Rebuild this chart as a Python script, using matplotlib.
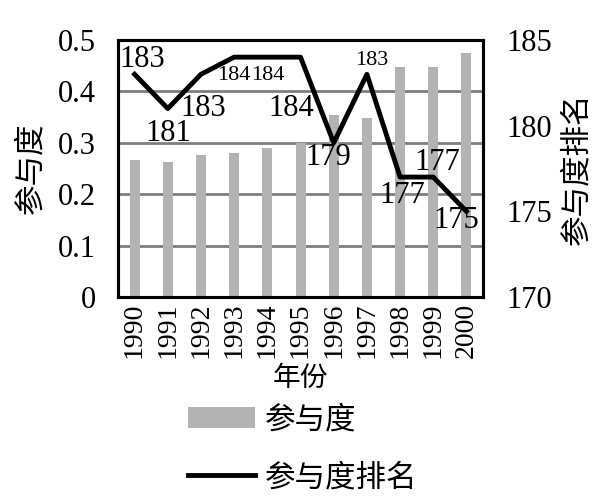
import matplotlib
matplotlib.use('Agg')
import matplotlib.pyplot as plt
import numpy as np

plt.rcParams['font.family'] = ['Liberation Serif', 'Noto Sans CJK SC']

years = ['1990', '1991', '1992', '1993', '1994', '1995', '1996', '1997', '1998', '1999', '2000']
participation = [0.266, 0.263, 0.276, 0.281, 0.290, 0.299, 0.355, 0.348, 0.448, 0.447, 0.474]
rank = [183, 181, 183, 184, 184, 184, 179, 183, 177, 177, 175]

# label offsets in pixels and font sizes
label_dx = [8, 0, 2, 0, 0, -9, -5, 5, 2, 4, -10]
label_dy = [15, -25, -34, -18, -18, -51, -15, 14, -18, 15, -9]
label_fs = [22, 22, 22, 16, 16, 22, 22, 16, 22, 22, 22]

fig = plt.figure(figsize=(6.13, 4.97), dpi=100)
ax = fig.add_axes([0.1925, 0.4024, 0.5955, 0.5171])
x = np.arange(len(years))

ax.set_axisbelow(True)
ax.grid(axis='y', color='#7f7f7f', lw=2)
bars = ax.bar(x, participation, width=0.3, color='#b3b3b3', label='参与度')
ax.set_xlim(-0.5, len(years) - 0.5)
ax.set_ylim(0, 0.5)
ax.set_yticks([0, 0.1, 0.2, 0.3, 0.4, 0.5])
ax.set_yticklabels(['0', '0.1', '0.2', '0.3', '0.4', '0.5'])
ax.set_xticks(x)
ax.set_xticklabels(years, rotation=90)
ax.tick_params(axis='both', length=0)
ax.tick_params(axis='y', pad=16, labelsize=22)
ax.tick_params(axis='x', pad=4, labelsize=20)
ax.set_xlabel('年份', fontsize=20, labelpad=6)
ax.set_ylabel('参与度', fontsize=22, labelpad=8)
for s in ax.spines.values():
    s.set_linewidth(2.2)

ax2 = ax.twinx()
line, = ax2.plot(x, rank, color='black', lw=3.5, label='参与度排名')
ax2.set_ylim(170, 185)
ax2.set_yticks([170, 175, 180, 185])
ax2.tick_params(axis='y', length=0, labelsize=22, pad=17)
ax2.set_ylabel('参与度排名', fontsize=22, labelpad=8)
for s in ax2.spines.values():
    s.set_linewidth(2.2)

for i, r in enumerate(rank):
    ax2.annotate(str(r), (x[i], r), xytext=(label_dx[i], label_dy[i]),
                 textcoords='offset pixels', ha='center', va='center',
                 fontsize=label_fs[i])

fig.legend(handles=[bars, line], loc='upper left', bbox_to_anchor=(0.307, 0.183),
           frameon=False, fontsize=22, handlelength=2.2, handletextpad=0.3,
           labelspacing=0.95, borderpad=0, borderaxespad=0)

fig.savefig('out.png', dpi=100)
